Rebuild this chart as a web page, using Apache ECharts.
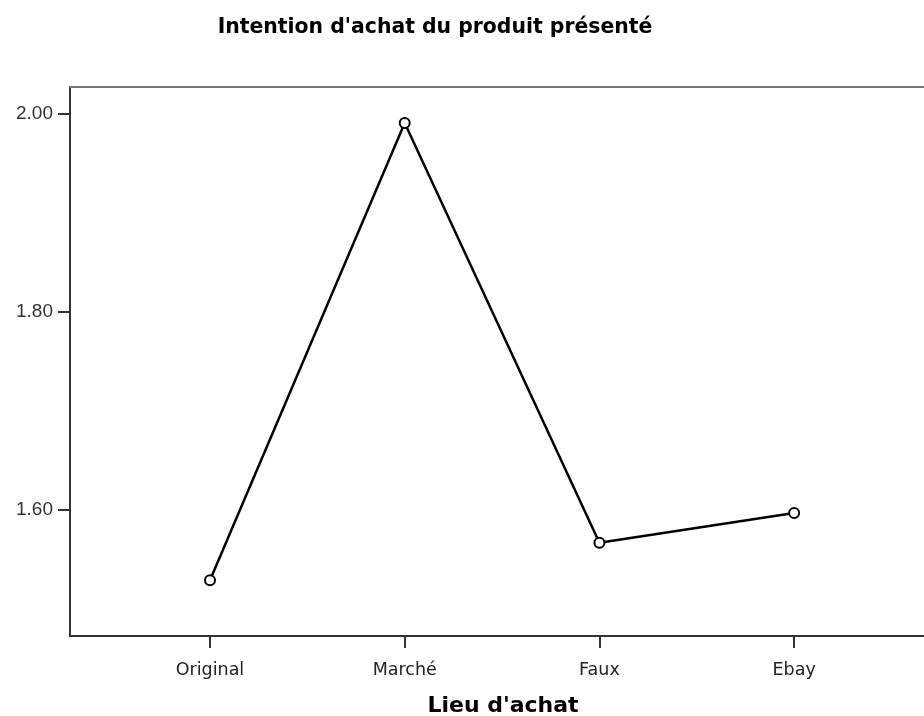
<!DOCTYPE html>
<html>
<head>
<meta charset="utf-8">
<script src="https://cdn.jsdelivr.net/npm/echarts@6/dist/echarts.min.js"></script>
<style>html,body{margin:0;padding:0;background:#fff}#c{width:924px;height:716px}</style>
</head>
<body>
<div id="c"></div>
<script>
const categories = ['Original', 'Marché', 'Faux', 'Ebay'];
const values = [1.529, 1.991, 1.567, 1.597];
const yTicks = [1.6, 1.8, 2.0];
const titleText = "Intention d'achat du produit présenté";
const xName = "Lieu d'achat";

const chart = echarts.init(document.getElementById('c'));
const idx = categories.map((c, i) => i);
chart.setOption({
  animation: false,
  backgroundColor: '#fff',
  title: [
    { text: titleText, left: 430, top: 13, textAlign: 'center',
      textStyle: { fontFamily: 'DejaVu Sans', fontWeight: 'bold', fontSize: 20.4, color: '#000' } },
    { text: xName, left: 498, top: 690, textAlign: 'center',
      textStyle: { fontFamily: 'DejaVu Sans', fontWeight: 'bold', fontSize: 22, color: '#000' } }
  ],
  grid: { left: 70, top: 87, bottom: 80, right: 0 },
  xAxis: [{
    type: 'value', min: -0.719, max: 3.667,
    splitLine: { show: false },
    axisLine: { show: true, onZero: false, lineStyle: { color: '#333', width: 2 } },
    axisTick: { show: true, length: 12, customValues: idx, lineStyle: { color: '#333', width: 2 } },
    axisLabel: { customValues: idx, margin: 25, fontFamily: 'DejaVu Sans', fontSize: 17.5, color: '#222',
      formatter: v => categories[Math.round(v)] }
  }, {
    type: 'value', position: 'top', min: -0.719, max: 3.667,
    splitLine: { show: false },
    axisLine: { show: true, onZero: false, lineStyle: { color: '#777', width: 2 } },
    axisTick: { show: false }, axisLabel: { show: false }
  }],
  yAxis: {
    type: 'value', min: 1.4727, max: 2.0273,
    splitLine: { show: false },
    axisLine: { show: true, onZero: false, lineStyle: { color: '#333', width: 2 } },
    axisTick: { show: true, length: 12, customValues: yTicks, lineStyle: { color: '#333', width: 2 } },
    axisLabel: { customValues: yTicks, margin: 17, fontFamily: 'Liberation Sans, Arial', fontSize: 19, color: '#333',
      formatter: v => v.toFixed(2) }
  },
  series: [{
    type: 'line',
    data: values.map((v, i) => [i, v]),
    lineStyle: { color: '#000', width: 2.5 },
    symbol: 'emptyCircle', symbolSize: 10,
    itemStyle: { color: '#000', borderColor: '#000', borderWidth: 1.5 }
  }]
});
</script>
</body>
</html>
